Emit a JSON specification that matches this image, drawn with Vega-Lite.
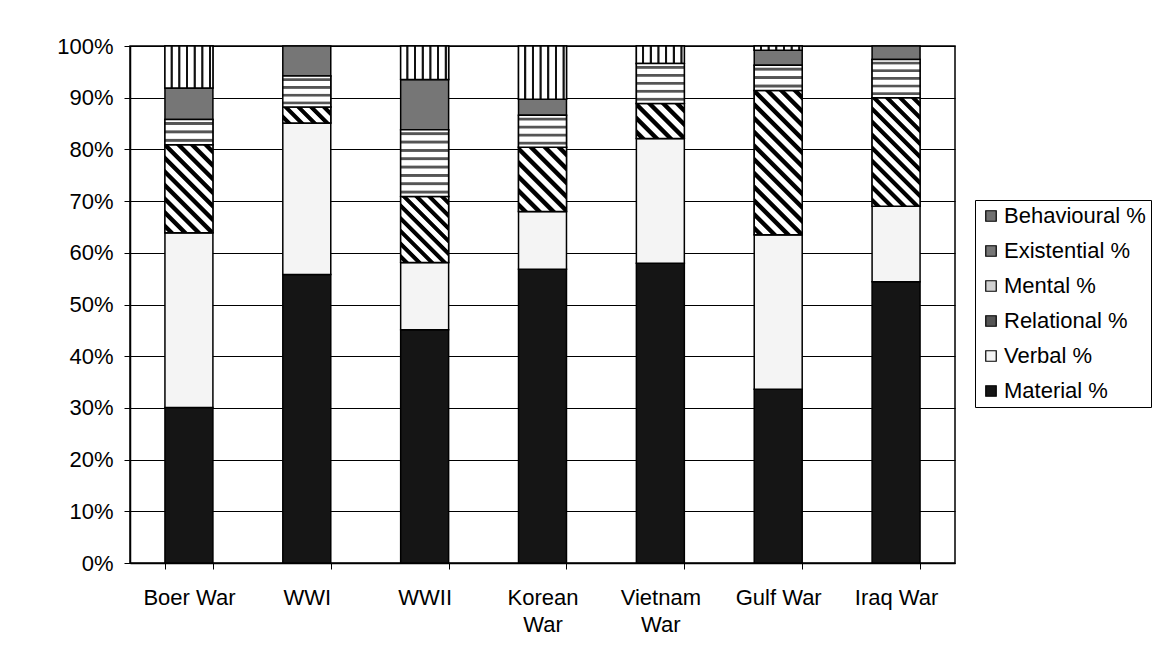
{
  "$schema": "https://vega.github.io/schema/vega-lite/v6.json",
  "width": 825,
  "height": 517,
  "autosize": {"type": "none"},
  "padding": {"left": 130, "top": 46, "right": 203, "bottom": 98},
  "background": "#ffffff",
  "config": {
    "font": "Liberation Sans",
    "view": {"stroke": "#000000", "strokeWidth": 1.5},
    "axis": {"labelColor": "#000000", "labelFontSize": 22, "domainColor": "#000000", "tickColor": "#000000", "labelFont": "Liberation Sans"},
    "legend": {"labelFont": "Liberation Sans"}
  },
  "data": {
    "values": [
      {"war": "Boer War", "type": "Material %", "value": 30.1, "ord": 1},
      {"war": "Boer War", "type": "Verbal %", "value": 33.8, "ord": 2},
      {"war": "Boer War", "type": "Relational %", "value": 17.0, "ord": 3},
      {"war": "Boer War", "type": "Mental %", "value": 4.9, "ord": 4},
      {"war": "Boer War", "type": "Existential %", "value": 6.1, "ord": 5},
      {"war": "Boer War", "type": "Behavioural %", "value": 8.1, "ord": 6},
      {"war": "WWI", "type": "Material %", "value": 55.8, "ord": 1},
      {"war": "WWI", "type": "Verbal %", "value": 29.3, "ord": 2},
      {"war": "WWI", "type": "Relational %", "value": 3.1, "ord": 3},
      {"war": "WWI", "type": "Mental %", "value": 6.0, "ord": 4},
      {"war": "WWI", "type": "Existential %", "value": 5.8, "ord": 5},
      {"war": "WWII", "type": "Material %", "value": 45.1, "ord": 1},
      {"war": "WWII", "type": "Verbal %", "value": 13.0, "ord": 2},
      {"war": "WWII", "type": "Relational %", "value": 12.8, "ord": 3},
      {"war": "WWII", "type": "Mental %", "value": 12.9, "ord": 4},
      {"war": "WWII", "type": "Existential %", "value": 9.7, "ord": 5},
      {"war": "WWII", "type": "Behavioural %", "value": 6.5, "ord": 6},
      {"war": "Korean War", "type": "Material %", "value": 56.8, "ord": 1},
      {"war": "Korean War", "type": "Verbal %", "value": 11.2, "ord": 2},
      {"war": "Korean War", "type": "Relational %", "value": 12.4, "ord": 3},
      {"war": "Korean War", "type": "Mental %", "value": 6.2, "ord": 4},
      {"war": "Korean War", "type": "Existential %", "value": 3.1, "ord": 5},
      {"war": "Korean War", "type": "Behavioural %", "value": 10.3, "ord": 6},
      {"war": "Vietnam War", "type": "Material %", "value": 58.0, "ord": 1},
      {"war": "Vietnam War", "type": "Verbal %", "value": 24.1, "ord": 2},
      {"war": "Vietnam War", "type": "Relational %", "value": 6.8, "ord": 3},
      {"war": "Vietnam War", "type": "Mental %", "value": 7.7, "ord": 4},
      {"war": "Vietnam War", "type": "Behavioural %", "value": 3.4, "ord": 6},
      {"war": "Gulf War", "type": "Material %", "value": 33.6, "ord": 1},
      {"war": "Gulf War", "type": "Verbal %", "value": 29.9, "ord": 2},
      {"war": "Gulf War", "type": "Relational %", "value": 27.9, "ord": 3},
      {"war": "Gulf War", "type": "Mental %", "value": 4.9, "ord": 4},
      {"war": "Gulf War", "type": "Existential %", "value": 2.9, "ord": 5},
      {"war": "Gulf War", "type": "Behavioural %", "value": 0.8, "ord": 6},
      {"war": "Iraq War", "type": "Material %", "value": 54.4, "ord": 1},
      {"war": "Iraq War", "type": "Verbal %", "value": 14.6, "ord": 2},
      {"war": "Iraq War", "type": "Relational %", "value": 21.0, "ord": 3},
      {"war": "Iraq War", "type": "Mental %", "value": 7.4, "ord": 4},
      {"war": "Iraq War", "type": "Existential %", "value": 2.6, "ord": 5}
    ]
  },
  "encoding": {
    "x": {
      "field": "war", "type": "nominal",
      "sort": ["Boer War", "WWI", "WWII", "Korean War", "Vietnam War", "Gulf War", "Iraq War"],
      "scale": {"paddingInner": 0.593, "paddingOuter": 0.2965},
      "axis": {"title": null, "labelAngle": 0, "tickBand": "extent", "tickSize": 6, "tickWidth": 1, "domainWidth": 1.5, "labelPadding": 18, "labelLineHeight": 27, "grid": false,
        "labelExpr": "datum.label === 'Korean War' ? ['Korean', 'War'] : datum.label === 'Vietnam War' ? ['Vietnam', 'War'] : datum.label"}
    }
  },
  "layer": [
    {
      "mark": {"type": "bar", "stroke": "#000000", "strokeWidth": 1.5},
      "encoding": {
        "y": {
          "field": "value", "type": "quantitative", "stack": "normalize",
          "axis": {"title": null, "values": [0, 0.1, 0.2, 0.3, 0.4, 0.5, 0.6, 0.7, 0.8, 0.9, 1], "format": ".0%", "grid": true, "gridColor": "#000000", "gridWidth": 1, "tickSize": 6, "domainWidth": 1.5, "labelPadding": 11}
        },
        "order": {"field": "ord", "type": "quantitative"},
        "color": {
          "field": "type", "type": "nominal",
          "scale": {
            "domain": ["Behavioural %", "Existential %", "Mental %", "Relational %", "Verbal %", "Material %"],
            "range": ["#707070", "#767676", "#d0d0d0", "#555555", "#f4f4f4", "#151515"]
          },
          "legend": {
            "title": null, "orient": "none", "legendX": 845, "legendY": 154,
            "strokeColor": "#000000", "padding": 5,
            "symbolType": "square", "symbolSize": 110, "symbolStrokeColor": "#000000", "symbolStrokeWidth": 1.2,
            "labelFontSize": 22, "labelColor": "#000000", "labelOffset": 2, "rowPadding": 13, "fillColor": "#ffffff"
          }
        }
      }
    },
    {
      "transform": [
        {"stack": "value", "groupby": ["war"], "sort": [{"field": "ord", "order": "ascending"}], "offset": "normalize", "as": ["y0", "y1"]},
        {"filter": "datum.type === 'Behavioural %'"}
      ],
      "mark": {"type": "bar", "stroke": "#000000", "strokeWidth": 1.5, "fill": {"gradient": "linear", "x1": 0, "y1": 0, "x2": 1, "y2": 0, "stops": [
              {"offset": 0, "color": "#fff"},
              {"offset": 0.11, "color": "#fff"}, {"offset": 0.125, "color": "#111"}, {"offset": 0.155, "color": "#111"}, {"offset": 0.17, "color": "#fff"},
              {"offset": 0.27, "color": "#fff"}, {"offset": 0.285, "color": "#111"}, {"offset": 0.315, "color": "#111"}, {"offset": 0.33, "color": "#fff"},
              {"offset": 0.43, "color": "#fff"}, {"offset": 0.445, "color": "#111"}, {"offset": 0.475, "color": "#111"}, {"offset": 0.49, "color": "#fff"},
              {"offset": 0.59, "color": "#fff"}, {"offset": 0.605, "color": "#111"}, {"offset": 0.635, "color": "#111"}, {"offset": 0.65, "color": "#fff"},
              {"offset": 0.75, "color": "#fff"}, {"offset": 0.765, "color": "#111"}, {"offset": 0.795, "color": "#111"}, {"offset": 0.81, "color": "#fff"},
              {"offset": 0.91, "color": "#fff"}, {"offset": 0.925, "color": "#111"}, {"offset": 0.955, "color": "#111"}, {"offset": 0.97, "color": "#fff"},
              {"offset": 1, "color": "#fff"}]}},
      "encoding": {"y": {"field": "y0", "type": "quantitative", "axis": {"title": null}}, "y2": {"field": "y1"}}
    },
    {
      "transform": [
        {"stack": "value", "groupby": ["war"], "sort": [{"field": "ord", "order": "ascending"}], "offset": "normalize", "as": ["y0", "y1"]},
        {"filter": "datum.type === 'Relational %' && datum.war === 'Boer War'"}
      ],
      "mark": {"type": "bar", "stroke": "#000000", "strokeWidth": 1.5, "fill": {"gradient": "linear", "x1": 0, "y1": 1, "x2": 0.650, "y2": -0.191, "stops": [
              {"offset": 0.02, "color": "#fff"}, {"offset": 0.03, "color": "#000"}, {"offset": 0.065, "color": "#000"}, {"offset": 0.075, "color": "#fff"},
              {"offset": 0.12, "color": "#fff"}, {"offset": 0.13, "color": "#000"}, {"offset": 0.165, "color": "#000"}, {"offset": 0.175, "color": "#fff"},
              {"offset": 0.22, "color": "#fff"}, {"offset": 0.23, "color": "#000"}, {"offset": 0.265, "color": "#000"}, {"offset": 0.275, "color": "#fff"},
              {"offset": 0.32, "color": "#fff"}, {"offset": 0.33, "color": "#000"}, {"offset": 0.365, "color": "#000"}, {"offset": 0.375, "color": "#fff"},
              {"offset": 0.42, "color": "#fff"}, {"offset": 0.43, "color": "#000"}, {"offset": 0.465, "color": "#000"}, {"offset": 0.475, "color": "#fff"},
              {"offset": 0.52, "color": "#fff"}, {"offset": 0.53, "color": "#000"}, {"offset": 0.565, "color": "#000"}, {"offset": 0.575, "color": "#fff"},
              {"offset": 0.62, "color": "#fff"}, {"offset": 0.63, "color": "#000"}, {"offset": 0.665, "color": "#000"}, {"offset": 0.675, "color": "#fff"},
              {"offset": 0.72, "color": "#fff"}, {"offset": 0.73, "color": "#000"}, {"offset": 0.765, "color": "#000"}, {"offset": 0.775, "color": "#fff"},
              {"offset": 0.82, "color": "#fff"}, {"offset": 0.83, "color": "#000"}, {"offset": 0.865, "color": "#000"}, {"offset": 0.875, "color": "#fff"},
              {"offset": 0.92, "color": "#fff"}, {"offset": 0.93, "color": "#000"}, {"offset": 0.965, "color": "#000"}, {"offset": 0.975, "color": "#fff"}]}},
      "encoding": {"y": {"field": "y0", "type": "quantitative", "axis": {"title": null}}, "y2": {"field": "y1"}}
    },
    {
      "transform": [
        {"stack": "value", "groupby": ["war"], "sort": [{"field": "ord", "order": "ascending"}], "offset": "normalize", "as": ["y0", "y1"]},
        {"filter": "datum.type === 'Relational %' && datum.war === 'WWI'"}
      ],
      "mark": {"type": "bar", "stroke": "#000000", "strokeWidth": 1.5, "fill": {"gradient": "linear", "x1": 0, "y1": 1, "x2": 1.2, "y2": 0.6, "stops": [
              {"offset": 0.04, "color": "#fff"}, {"offset": 0.06, "color": "#000"}, {"offset": 0.13, "color": "#000"}, {"offset": 0.15, "color": "#fff"},
              {"offset": 0.24, "color": "#fff"}, {"offset": 0.26, "color": "#000"}, {"offset": 0.33, "color": "#000"}, {"offset": 0.35, "color": "#fff"},
              {"offset": 0.44, "color": "#fff"}, {"offset": 0.46, "color": "#000"}, {"offset": 0.53, "color": "#000"}, {"offset": 0.55, "color": "#fff"},
              {"offset": 0.64, "color": "#fff"}, {"offset": 0.66, "color": "#000"}, {"offset": 0.73, "color": "#000"}, {"offset": 0.75, "color": "#fff"},
              {"offset": 0.84, "color": "#fff"}, {"offset": 0.86, "color": "#000"}, {"offset": 0.93, "color": "#000"}, {"offset": 0.95, "color": "#fff"}]}},
      "encoding": {"y": {"field": "y0", "type": "quantitative", "axis": {"title": null}}, "y2": {"field": "y1"}}
    },
    {
      "transform": [
        {"stack": "value", "groupby": ["war"], "sort": [{"field": "ord", "order": "ascending"}], "offset": "normalize", "as": ["y0", "y1"]},
        {"filter": "datum.type === 'Relational %' && datum.war === 'WWII'"}
      ],
      "mark": {"type": "bar", "stroke": "#000000", "strokeWidth": 1.5, "fill": {"gradient": "linear", "x1": 0, "y1": 1, "x2": 0.820, "y2": -0.131, "stops": [
              {"offset": 0.0222, "color": "#fff"}, {"offset": 0.0333, "color": "#000"}, {"offset": 0.0722, "color": "#000"}, {"offset": 0.0833, "color": "#fff"},
              {"offset": 0.1333, "color": "#fff"}, {"offset": 0.1444, "color": "#000"}, {"offset": 0.1833, "color": "#000"}, {"offset": 0.1944, "color": "#fff"},
              {"offset": 0.2444, "color": "#fff"}, {"offset": 0.2556, "color": "#000"}, {"offset": 0.2944, "color": "#000"}, {"offset": 0.3056, "color": "#fff"},
              {"offset": 0.3556, "color": "#fff"}, {"offset": 0.3667, "color": "#000"}, {"offset": 0.4056, "color": "#000"}, {"offset": 0.4167, "color": "#fff"},
              {"offset": 0.4667, "color": "#fff"}, {"offset": 0.4778, "color": "#000"}, {"offset": 0.5167, "color": "#000"}, {"offset": 0.5278, "color": "#fff"},
              {"offset": 0.5778, "color": "#fff"}, {"offset": 0.5889, "color": "#000"}, {"offset": 0.6278, "color": "#000"}, {"offset": 0.6389, "color": "#fff"},
              {"offset": 0.6889, "color": "#fff"}, {"offset": 0.7, "color": "#000"}, {"offset": 0.7389, "color": "#000"}, {"offset": 0.75, "color": "#fff"},
              {"offset": 0.8, "color": "#fff"}, {"offset": 0.8111, "color": "#000"}, {"offset": 0.85, "color": "#000"}, {"offset": 0.8611, "color": "#fff"},
              {"offset": 0.9111, "color": "#fff"}, {"offset": 0.9222, "color": "#000"}, {"offset": 0.9611, "color": "#000"}, {"offset": 0.9722, "color": "#fff"}]}},
      "encoding": {"y": {"field": "y0", "type": "quantitative", "axis": {"title": null}}, "y2": {"field": "y1"}}
    },
    {
      "transform": [
        {"stack": "value", "groupby": ["war"], "sort": [{"field": "ord", "order": "ascending"}], "offset": "normalize", "as": ["y0", "y1"]},
        {"filter": "datum.type === 'Relational %' && datum.war === 'Korean War'"}
      ],
      "mark": {"type": "bar", "stroke": "#000000", "strokeWidth": 1.5, "fill": {"gradient": "linear", "x1": 0, "y1": 1, "x2": 0.839, "y2": -0.120, "stops": [
              {"offset": 0.025, "color": "#fff"}, {"offset": 0.0375, "color": "#000"}, {"offset": 0.0813, "color": "#000"}, {"offset": 0.0938, "color": "#fff"},
              {"offset": 0.15, "color": "#fff"}, {"offset": 0.1625, "color": "#000"}, {"offset": 0.2063, "color": "#000"}, {"offset": 0.2188, "color": "#fff"},
              {"offset": 0.275, "color": "#fff"}, {"offset": 0.2875, "color": "#000"}, {"offset": 0.3313, "color": "#000"}, {"offset": 0.3438, "color": "#fff"},
              {"offset": 0.4, "color": "#fff"}, {"offset": 0.4125, "color": "#000"}, {"offset": 0.4563, "color": "#000"}, {"offset": 0.4688, "color": "#fff"},
              {"offset": 0.525, "color": "#fff"}, {"offset": 0.5375, "color": "#000"}, {"offset": 0.5813, "color": "#000"}, {"offset": 0.5938, "color": "#fff"},
              {"offset": 0.65, "color": "#fff"}, {"offset": 0.6625, "color": "#000"}, {"offset": 0.7063, "color": "#000"}, {"offset": 0.7188, "color": "#fff"},
              {"offset": 0.775, "color": "#fff"}, {"offset": 0.7875, "color": "#000"}, {"offset": 0.8313, "color": "#000"}, {"offset": 0.8438, "color": "#fff"},
              {"offset": 0.9, "color": "#fff"}, {"offset": 0.9125, "color": "#000"}, {"offset": 0.9563, "color": "#000"}, {"offset": 0.9688, "color": "#fff"}]}},
      "encoding": {"y": {"field": "y0", "type": "quantitative", "axis": {"title": null}}, "y2": {"field": "y1"}}
    },
    {
      "transform": [
        {"stack": "value", "groupby": ["war"], "sort": [{"field": "ord", "order": "ascending"}], "offset": "normalize", "as": ["y0", "y1"]},
        {"filter": "datum.type === 'Relational %' && datum.war === 'Vietnam War'"}
      ],
      "mark": {"type": "bar", "stroke": "#000000", "strokeWidth": 1.5, "fill": {"gradient": "linear", "x1": 0, "y1": 1, "x2": 1.127, "y2": 0.174, "stops": [
              {"offset": 0.0333, "color": "#fff"}, {"offset": 0.05, "color": "#000"}, {"offset": 0.1083, "color": "#000"}, {"offset": 0.125, "color": "#fff"},
              {"offset": 0.2, "color": "#fff"}, {"offset": 0.2167, "color": "#000"}, {"offset": 0.275, "color": "#000"}, {"offset": 0.2917, "color": "#fff"},
              {"offset": 0.3667, "color": "#fff"}, {"offset": 0.3833, "color": "#000"}, {"offset": 0.4417, "color": "#000"}, {"offset": 0.4583, "color": "#fff"},
              {"offset": 0.5333, "color": "#fff"}, {"offset": 0.55, "color": "#000"}, {"offset": 0.6083, "color": "#000"}, {"offset": 0.625, "color": "#fff"},
              {"offset": 0.7, "color": "#fff"}, {"offset": 0.7167, "color": "#000"}, {"offset": 0.775, "color": "#000"}, {"offset": 0.7917, "color": "#fff"},
              {"offset": 0.8667, "color": "#fff"}, {"offset": 0.8833, "color": "#000"}, {"offset": 0.9417, "color": "#000"}, {"offset": 0.9583, "color": "#fff"}]}},
      "encoding": {"y": {"field": "y0", "type": "quantitative", "axis": {"title": null}}, "y2": {"field": "y1"}}
    },
    {
      "transform": [
        {"stack": "value", "groupby": ["war"], "sort": [{"field": "ord", "order": "ascending"}], "offset": "normalize", "as": ["y0", "y1"]},
        {"filter": "datum.type === 'Relational %' && datum.war === 'Gulf War'"}
      ],
      "mark": {"type": "bar", "stroke": "#000000", "strokeWidth": 1.5, "fill": {"gradient": "linear", "x1": 0, "y1": 1, "x2": 0.399, "y2": -0.200, "stops": [
              {"offset": 0.0143, "color": "#fff"}, {"offset": 0.0214, "color": "#000"}, {"offset": 0.0464, "color": "#000"}, {"offset": 0.0536, "color": "#fff"},
              {"offset": 0.0857, "color": "#fff"}, {"offset": 0.0929, "color": "#000"}, {"offset": 0.1179, "color": "#000"}, {"offset": 0.125, "color": "#fff"},
              {"offset": 0.1571, "color": "#fff"}, {"offset": 0.1643, "color": "#000"}, {"offset": 0.1893, "color": "#000"}, {"offset": 0.1964, "color": "#fff"},
              {"offset": 0.2286, "color": "#fff"}, {"offset": 0.2357, "color": "#000"}, {"offset": 0.2607, "color": "#000"}, {"offset": 0.2679, "color": "#fff"},
              {"offset": 0.3, "color": "#fff"}, {"offset": 0.3071, "color": "#000"}, {"offset": 0.3321, "color": "#000"}, {"offset": 0.3393, "color": "#fff"},
              {"offset": 0.3714, "color": "#fff"}, {"offset": 0.3786, "color": "#000"}, {"offset": 0.4036, "color": "#000"}, {"offset": 0.4107, "color": "#fff"},
              {"offset": 0.4429, "color": "#fff"}, {"offset": 0.45, "color": "#000"}, {"offset": 0.475, "color": "#000"}, {"offset": 0.4821, "color": "#fff"},
              {"offset": 0.5143, "color": "#fff"}, {"offset": 0.5214, "color": "#000"}, {"offset": 0.5464, "color": "#000"}, {"offset": 0.5536, "color": "#fff"},
              {"offset": 0.5857, "color": "#fff"}, {"offset": 0.5929, "color": "#000"}, {"offset": 0.6179, "color": "#000"}, {"offset": 0.625, "color": "#fff"},
              {"offset": 0.6571, "color": "#fff"}, {"offset": 0.6643, "color": "#000"}, {"offset": 0.6893, "color": "#000"}, {"offset": 0.6964, "color": "#fff"},
              {"offset": 0.7286, "color": "#fff"}, {"offset": 0.7357, "color": "#000"}, {"offset": 0.7607, "color": "#000"}, {"offset": 0.7679, "color": "#fff"},
              {"offset": 0.8, "color": "#fff"}, {"offset": 0.8071, "color": "#000"}, {"offset": 0.8321, "color": "#000"}, {"offset": 0.8393, "color": "#fff"},
              {"offset": 0.8714, "color": "#fff"}, {"offset": 0.8786, "color": "#000"}, {"offset": 0.9036, "color": "#000"}, {"offset": 0.9107, "color": "#fff"},
              {"offset": 0.9429, "color": "#fff"}, {"offset": 0.95, "color": "#000"}, {"offset": 0.975, "color": "#000"}, {"offset": 0.9821, "color": "#fff"}]}},
      "encoding": {"y": {"field": "y0", "type": "quantitative", "axis": {"title": null}}, "y2": {"field": "y1"}}
    },
    {
      "transform": [
        {"stack": "value", "groupby": ["war"], "sort": [{"field": "ord", "order": "ascending"}], "offset": "normalize", "as": ["y0", "y1"]},
        {"filter": "datum.type === 'Relational %' && datum.war === 'Iraq War'"}
      ],
      "mark": {"type": "bar", "stroke": "#000000", "strokeWidth": 1.5, "fill": {"gradient": "linear", "x1": 0, "y1": 1, "x2": 0.533, "y2": -0.206, "stops": [
              {"offset": 0.0167, "color": "#fff"}, {"offset": 0.025, "color": "#000"}, {"offset": 0.0542, "color": "#000"}, {"offset": 0.0625, "color": "#fff"},
              {"offset": 0.1, "color": "#fff"}, {"offset": 0.1083, "color": "#000"}, {"offset": 0.1375, "color": "#000"}, {"offset": 0.1458, "color": "#fff"},
              {"offset": 0.1833, "color": "#fff"}, {"offset": 0.1917, "color": "#000"}, {"offset": 0.2208, "color": "#000"}, {"offset": 0.2292, "color": "#fff"},
              {"offset": 0.2667, "color": "#fff"}, {"offset": 0.275, "color": "#000"}, {"offset": 0.3042, "color": "#000"}, {"offset": 0.3125, "color": "#fff"},
              {"offset": 0.35, "color": "#fff"}, {"offset": 0.3583, "color": "#000"}, {"offset": 0.3875, "color": "#000"}, {"offset": 0.3958, "color": "#fff"},
              {"offset": 0.4333, "color": "#fff"}, {"offset": 0.4417, "color": "#000"}, {"offset": 0.4708, "color": "#000"}, {"offset": 0.4792, "color": "#fff"},
              {"offset": 0.5167, "color": "#fff"}, {"offset": 0.525, "color": "#000"}, {"offset": 0.5542, "color": "#000"}, {"offset": 0.5625, "color": "#fff"},
              {"offset": 0.6, "color": "#fff"}, {"offset": 0.6083, "color": "#000"}, {"offset": 0.6375, "color": "#000"}, {"offset": 0.6458, "color": "#fff"},
              {"offset": 0.6833, "color": "#fff"}, {"offset": 0.6917, "color": "#000"}, {"offset": 0.7208, "color": "#000"}, {"offset": 0.7292, "color": "#fff"},
              {"offset": 0.7667, "color": "#fff"}, {"offset": 0.775, "color": "#000"}, {"offset": 0.8042, "color": "#000"}, {"offset": 0.8125, "color": "#fff"},
              {"offset": 0.85, "color": "#fff"}, {"offset": 0.8583, "color": "#000"}, {"offset": 0.8875, "color": "#000"}, {"offset": 0.8958, "color": "#fff"},
              {"offset": 0.9333, "color": "#fff"}, {"offset": 0.9417, "color": "#000"}, {"offset": 0.9708, "color": "#000"}, {"offset": 0.9792, "color": "#fff"}]}},
      "encoding": {"y": {"field": "y0", "type": "quantitative", "axis": {"title": null}}, "y2": {"field": "y1"}}
    },
    {
      "transform": [
        {"stack": "value", "groupby": ["war"], "sort": [{"field": "ord", "order": "ascending"}], "offset": "normalize", "as": ["y0", "y1"]},
        {"filter": "datum.type === 'Mental %' && (datum.war === 'Boer War' || datum.war === 'Gulf War')"}
      ],
      "mark": {"type": "bar", "stroke": "#000000", "strokeWidth": 1.5, "fill": {"gradient": "linear", "x1": 0, "y1": 0, "x2": 0, "y2": 1, "stops": [
              {"offset": 0.0833, "color": "#fff"}, {"offset": 0.1167, "color": "#555"}, {"offset": 0.2, "color": "#555"}, {"offset": 0.2333, "color": "#fff"},
              {"offset": 0.4167, "color": "#fff"}, {"offset": 0.45, "color": "#555"}, {"offset": 0.5333, "color": "#555"}, {"offset": 0.5667, "color": "#fff"},
              {"offset": 0.75, "color": "#fff"}, {"offset": 0.7833, "color": "#555"}, {"offset": 0.8667, "color": "#555"}, {"offset": 0.9, "color": "#fff"}]}},
      "encoding": {"y": {"field": "y0", "type": "quantitative", "axis": {"title": null}}, "y2": {"field": "y1"}}
    },
    {
      "transform": [
        {"stack": "value", "groupby": ["war"], "sort": [{"field": "ord", "order": "ascending"}], "offset": "normalize", "as": ["y0", "y1"]},
        {"filter": "datum.type === 'Mental %' && (datum.war === 'WWI' || datum.war === 'Korean War')"}
      ],
      "mark": {"type": "bar", "stroke": "#000000", "strokeWidth": 1.5, "fill": {"gradient": "linear", "x1": 0, "y1": 0, "x2": 0, "y2": 1, "stops": [
              {"offset": 0.0625, "color": "#fff"}, {"offset": 0.0875, "color": "#555"}, {"offset": 0.15, "color": "#555"}, {"offset": 0.175, "color": "#fff"},
              {"offset": 0.3125, "color": "#fff"}, {"offset": 0.3375, "color": "#555"}, {"offset": 0.4, "color": "#555"}, {"offset": 0.425, "color": "#fff"},
              {"offset": 0.5625, "color": "#fff"}, {"offset": 0.5875, "color": "#555"}, {"offset": 0.65, "color": "#555"}, {"offset": 0.675, "color": "#fff"},
              {"offset": 0.8125, "color": "#fff"}, {"offset": 0.8375, "color": "#555"}, {"offset": 0.9, "color": "#555"}, {"offset": 0.925, "color": "#fff"}]}},
      "encoding": {"y": {"field": "y0", "type": "quantitative", "axis": {"title": null}}, "y2": {"field": "y1"}}
    },
    {
      "transform": [
        {"stack": "value", "groupby": ["war"], "sort": [{"field": "ord", "order": "ascending"}], "offset": "normalize", "as": ["y0", "y1"]},
        {"filter": "datum.type === 'Mental %' && (datum.war === 'Vietnam War' || datum.war === 'Iraq War')"}
      ],
      "mark": {"type": "bar", "stroke": "#000000", "strokeWidth": 1.5, "fill": {"gradient": "linear", "x1": 0, "y1": 0, "x2": 0, "y2": 1, "stops": [
              {"offset": 0.05, "color": "#fff"}, {"offset": 0.07, "color": "#555"}, {"offset": 0.12, "color": "#555"}, {"offset": 0.14, "color": "#fff"},
              {"offset": 0.25, "color": "#fff"}, {"offset": 0.27, "color": "#555"}, {"offset": 0.32, "color": "#555"}, {"offset": 0.34, "color": "#fff"},
              {"offset": 0.45, "color": "#fff"}, {"offset": 0.47, "color": "#555"}, {"offset": 0.52, "color": "#555"}, {"offset": 0.54, "color": "#fff"},
              {"offset": 0.65, "color": "#fff"}, {"offset": 0.67, "color": "#555"}, {"offset": 0.72, "color": "#555"}, {"offset": 0.74, "color": "#fff"},
              {"offset": 0.85, "color": "#fff"}, {"offset": 0.87, "color": "#555"}, {"offset": 0.92, "color": "#555"}, {"offset": 0.94, "color": "#fff"}]}},
      "encoding": {"y": {"field": "y0", "type": "quantitative", "axis": {"title": null}}, "y2": {"field": "y1"}}
    },
    {
      "transform": [
        {"stack": "value", "groupby": ["war"], "sort": [{"field": "ord", "order": "ascending"}], "offset": "normalize", "as": ["y0", "y1"]},
        {"filter": "datum.type === 'Mental %' && datum.war === 'WWII'"}
      ],
      "mark": {"type": "bar", "stroke": "#000000", "strokeWidth": 1.5, "fill": {"gradient": "linear", "x1": 0, "y1": 0, "x2": 0, "y2": 1, "stops": [
              {"offset": 0.0313, "color": "#fff"}, {"offset": 0.0438, "color": "#555"}, {"offset": 0.075, "color": "#555"}, {"offset": 0.0875, "color": "#fff"},
              {"offset": 0.1563, "color": "#fff"}, {"offset": 0.1688, "color": "#555"}, {"offset": 0.2, "color": "#555"}, {"offset": 0.2125, "color": "#fff"},
              {"offset": 0.2813, "color": "#fff"}, {"offset": 0.2938, "color": "#555"}, {"offset": 0.325, "color": "#555"}, {"offset": 0.3375, "color": "#fff"},
              {"offset": 0.4063, "color": "#fff"}, {"offset": 0.4188, "color": "#555"}, {"offset": 0.45, "color": "#555"}, {"offset": 0.4625, "color": "#fff"},
              {"offset": 0.5313, "color": "#fff"}, {"offset": 0.5438, "color": "#555"}, {"offset": 0.575, "color": "#555"}, {"offset": 0.5875, "color": "#fff"},
              {"offset": 0.6563, "color": "#fff"}, {"offset": 0.6688, "color": "#555"}, {"offset": 0.7, "color": "#555"}, {"offset": 0.7125, "color": "#fff"},
              {"offset": 0.7813, "color": "#fff"}, {"offset": 0.7938, "color": "#555"}, {"offset": 0.825, "color": "#555"}, {"offset": 0.8375, "color": "#fff"},
              {"offset": 0.9063, "color": "#fff"}, {"offset": 0.9188, "color": "#555"}, {"offset": 0.95, "color": "#555"}, {"offset": 0.9625, "color": "#fff"}]}},
      "encoding": {"y": {"field": "y0", "type": "quantitative", "axis": {"title": null}}, "y2": {"field": "y1"}}
    }
  ]
}
